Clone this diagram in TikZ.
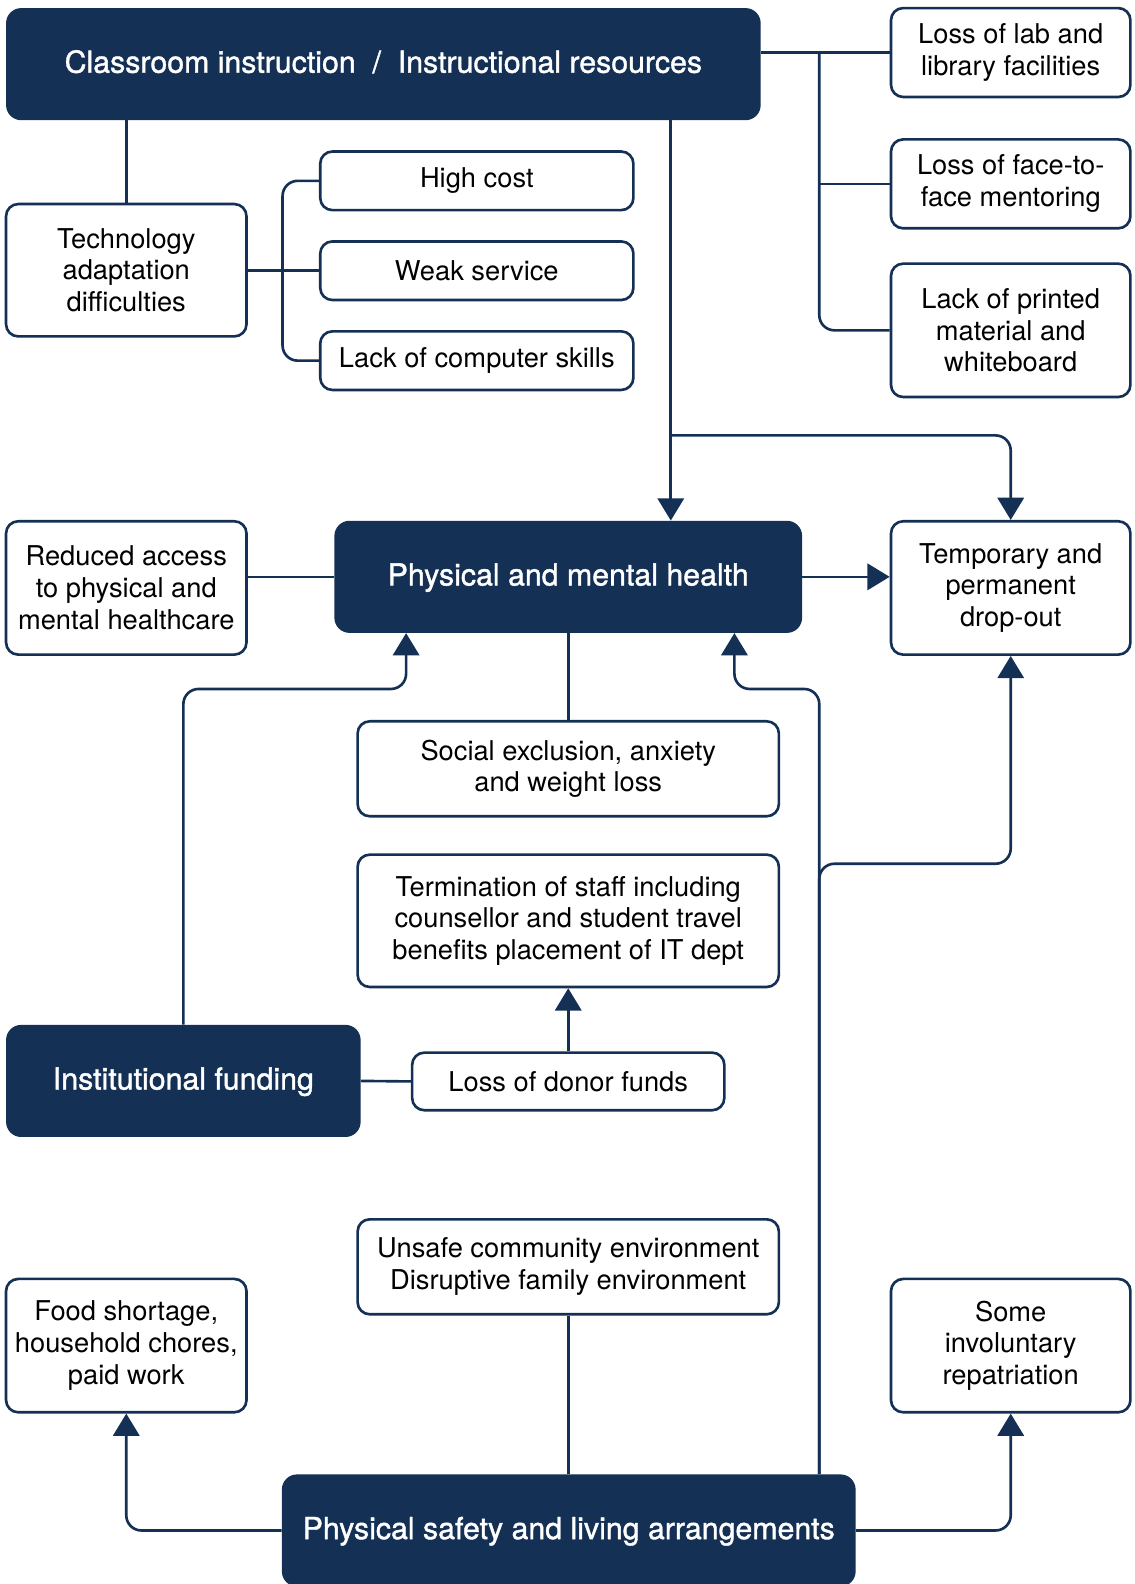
\documentclass[tikz,border=0pt]{standalone}
\usepackage{fontspec}
\setmainfont{TeX Gyre Heros}
\newfontface\headfont{TeX Gyre Heros}[FakeBold=1.3]
\usetikzlibrary{arrows.meta}
\definecolor{headblue}{RGB}{20,48,85}
\tikzset{
  head/.style={fill=headblue, text=white, rounded corners=15pt, inner sep=0pt,
    minimum height=111pt, text height=22pt, text depth=5pt,
    font=\headfont\fontsize{30}{36}\selectfont},
  item/.style={draw=headblue, line width=2.6pt, fill=white, rounded corners=12pt,
    align=center, inner sep=0pt, font=\fontsize{27}{31.5}\selectfont},
  link/.style={draw=headblue, line width=2.6pt, rounded corners=15pt},
  arr/.style={link, -{Triangle[width=26pt,length=22pt]}}
}

\begin{document}
\begin{tikzpicture}[x=1pt,y=-1pt]
\useasboundingbox (0,0) rectangle (1123,1568);
% the four themes
\node[head, minimum width=747pt] (instr) at (379.5,63.5) {Classroom instruction~~/~~Instructional resources};
\node[head, minimum width=463pt] (health) at (562.5,571) {Physical and mental health};
\node[head, minimum width=351pt] (fund) at (181.5,1070) {Institutional funding};
\node[head, minimum width=568pt] (safety) at (563,1515) {Physical safety and living arrangements};
% classroom instruction
\node[item, minimum width=238pt, minimum height=131pt] (tech) at (125,267.5) {Technology\\adaptation\\difficulties};
\node[item, minimum width=310pt, minimum height=58pt] (cost) at (472,179) {High cost};
\node[item, minimum width=310pt, minimum height=58pt] (weak) at (472,268) {Weak service};
\node[item, minimum width=310pt, minimum height=58pt] (skills) at (472,357) {Lack of computer skills};
\node[item, minimum width=237pt, minimum height=88pt] (lab) at (1000.5,52) {Loss of lab and\\library facilities};
\node[item, minimum width=237pt, minimum height=88pt] (mentor) at (1000.5,182) {Loss of face-to-\\face mentoring};
\node[item, minimum width=237pt, minimum height=132pt] (printed) at (1000.5,327) {Lack of printed\\material and\\whiteboard};
% health
\node[item, minimum width=238pt, minimum height=132pt] (access) at (125,582) {Reduced access\\to physical and\\mental healthcare};
\node[item, minimum width=237pt, minimum height=132pt] (dropout) at (1000.5,582) {Temporary and\\permanent\\drop-out};
\node[item, minimum width=417pt, minimum height=94pt] (social) at (562.5,761) {Social exclusion, anxiety\\and weight loss};
% funding
\node[item, minimum width=417pt, minimum height=131pt] (staff) at (562.5,911.5) {Termination of staff including\\counsellor and student travel\\benefits placement of IT dept};
\node[item, minimum width=309pt, minimum height=57pt] (donor) at (562.5,1070.5) {Loss of donor funds};
% safety
\node[item, minimum width=417pt, minimum height=94pt] (unsafe) at (562.5,1254) {Unsafe community environment\\Disruptive family environment};
\node[item, minimum width=238pt, minimum height=132pt] (food) at (125,1332) {Food shortage,\\household chores,\\paid work};
\node[item, minimum width=237pt, minimum height=132pt] (repat) at (1000.5,1332) {Some\\involuntary\\repatriation};
% branch points
\coordinate (rb) at (811,52);
\coordinate (down) at (664,0);
\coordinate (split) at (664,431);
\coordinate (lbend) at (402,682);
\coordinate (rbend) at (727,682);
\coordinate (rise) at (811,0);
\coordinate (cross) at (811,855);
% connectors
\draw[link] (instr.south -| tech.north) -- (tech.north);
\draw[link] (tech.east |- weak.west) -- (weak.west);
\draw[link] (cost.west) -- ++(-36,0) |- (skills.west);
\draw[link] (lab.west -| instr.east) -- (lab.west);
\draw[link] (rb) |- (printed.west);
\draw[link] (rb |- mentor.west) -- (mentor.west);
\draw[arr] (instr.south -| down) -- (health.north -| down);
\draw[arr] (split) -| (dropout.north);
\draw[link] (health.west -| access.east) -- (health.west);
\draw[arr] (health.east) -- (dropout.west |- health.east);
\draw[link] (health.south) -- (social.north);
\draw[arr] (donor.north) -- (staff.south);
\draw[link] (fund.east) -- (donor.west);
\draw[arr] (fund.north) |- (lbend) -- (lbend |- health.south);
\draw[arr] (safety.north -| rise) |- (rbend) -- (rbend |- health.south);
\draw[arr] (safety.north -| rise) -- (cross) -| (dropout.south);
\draw[link] (unsafe.south) -- (safety.north -| unsafe.south);
\draw[arr] (safety.west) -| (food.south);
\draw[arr] (safety.east) -| (repat.south);
\end{tikzpicture}
\end{document}
